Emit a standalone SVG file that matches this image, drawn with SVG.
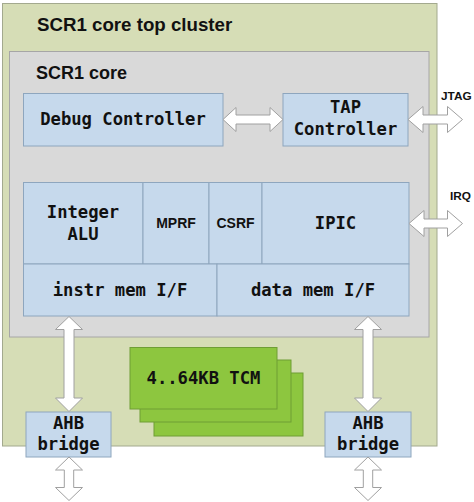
<svg xmlns="http://www.w3.org/2000/svg" width="474" height="502" viewBox="0 0 474 502">
<style>
.cluster{fill:#D6DDB6;stroke:#A3A98E;stroke-width:1}
.core{fill:#D9D9D9;stroke:#A6A6A6;stroke-width:1}
.blk{fill:#C6D9EC;stroke:#8EA6BE;stroke-width:1}
.tcm{fill:#8DC63F;stroke:#6F9E35;stroke-width:1}
.arr{fill:#FFFFFF;stroke:#A0A0A0;stroke-width:1;stroke-linejoin:miter}
.title{font-family:"Liberation Sans",Arial,sans-serif;font-weight:bold;fill:#111}
.mono{font-family:"DejaVu Sans Mono","Liberation Mono",monospace;font-weight:bold;font-size:17.2px;fill:#111;text-anchor:middle}
.sm{font-family:"Liberation Sans",Arial,sans-serif;font-weight:bold;font-size:14px;fill:#111;text-anchor:middle}
.lbl{font-family:"Liberation Sans",Arial,sans-serif;font-weight:bold;font-size:11.8px;fill:#111}
</style>
<g id="cluster">
<rect class="cluster" x="2.5" y="3.5" width="434.5" height="442.5"/>
<text class="title" x="37" y="31" font-size="18.7">SCR1 core top cluster</text>
</g>
<g id="core">
<rect class="core" x="9.5" y="51.5" width="419.5" height="285.5"/>
<text class="title" x="36" y="79" font-size="18">SCR1 core</text>
</g>
<g id="debug-controller">
<rect class="blk" x="23.5" y="93.5" width="199.5" height="52.5"/>
<text class="mono" x="123" y="125">Debug Controller</text>
</g>
<g id="tap-controller">
<rect class="blk" x="283" y="93.5" width="125" height="52.5"/>
<text class="mono" x="345.5" y="113">TAP</text>
<text class="mono" x="345.5" y="135">Controller</text>
</g>
<g id="integer-alu">
<rect class="blk" x="23.5" y="182.5" width="119.5" height="81.5"/>
<text class="mono" x="83" y="218">Integer</text>
<text class="mono" x="83" y="240">ALU</text>
</g>
<g id="mprf">
<rect class="blk" x="143" y="182.5" width="66" height="81.5"/>
<text class="sm" x="176" y="228">MPRF</text>
</g>
<g id="csrf">
<rect class="blk" x="209" y="182.5" width="53" height="81.5"/>
<text class="sm" x="235.5" y="228">CSRF</text>
</g>
<g id="ipic">
<rect class="blk" x="262" y="182.5" width="147" height="81.5"/>
<text class="mono" x="335.5" y="229">IPIC</text>
</g>
<g id="instr-mem-if">
<rect class="blk" x="23.5" y="264" width="193.5" height="52"/>
<text class="mono" x="120" y="296">instr mem I/F</text>
</g>
<g id="data-mem-if">
<rect class="blk" x="217" y="264" width="192" height="52"/>
<text class="mono" x="313" y="296">data mem I/F</text>
</g>
<g id="tcm">
<rect class="tcm" x="154" y="373" width="149" height="63"/>
<rect class="tcm" x="140" y="360" width="151" height="62"/>
<rect class="tcm" x="130" y="347.5" width="147" height="61.5"/>
<text class="mono" x="203.5" y="384">4..64KB TCM</text>
</g>
<g id="ahb-bridge-left">
<rect class="blk" x="26" y="412" width="85" height="45"/>
<text class="mono" x="68.5" y="429">AHB</text>
<text class="mono" x="68.5" y="450">bridge</text>
</g>
<g id="ahb-bridge-right">
<rect class="blk" x="325" y="412" width="86" height="45"/>
<text class="mono" x="368" y="429">AHB</text>
<text class="mono" x="368" y="450">bridge</text>
</g>
<g id="connectors">
<polygon class="arr" points="223,119.5 236,107.5 236,115 270,115 270,107.5 283,119.5 270,131.5 270,124 236,124 236,131.5"/>
<polygon class="arr" points="408,119.5 423,106.5 423,115 447.5,115 447.5,106.5 462.5,119.5 447.5,132.5 447.5,124 423,124 423,132.5"/>
<polygon class="arr" points="409,223.5 424,210.5 424,219 447.5,219 447.5,210.5 462.5,223.5 447.5,236.5 447.5,228 424,228 424,236.5"/>
<polygon class="arr" points="69,316.5 82.5,329.5 74,329.5 74,398 82.5,398 69,411.5 55.5,398 64,398 64,329.5 55.5,329.5"/>
<polygon class="arr" points="368,316.5 381.5,329.5 373,329.5 373,398 381.5,398 368,411.5 354.5,398 363,398 363,329.5 354.5,329.5"/>
<polygon class="arr" points="69,457 82.5,470 73.7,470 73.7,487.5 82.5,487.5 69,500.5 55.5,487.5 64.3,487.5 64.3,470 55.5,470"/>
<polygon class="arr" points="368,457 381.5,470 372.7,470 372.7,487.5 381.5,487.5 368,500.5 354.5,487.5 363.3,487.5 363.3,470 354.5,470"/>
</g>
<g id="labels">
<text class="lbl" x="441" y="100">JTAG</text>
<text class="lbl" x="450" y="200">IRQ</text>
</g>
</svg>
